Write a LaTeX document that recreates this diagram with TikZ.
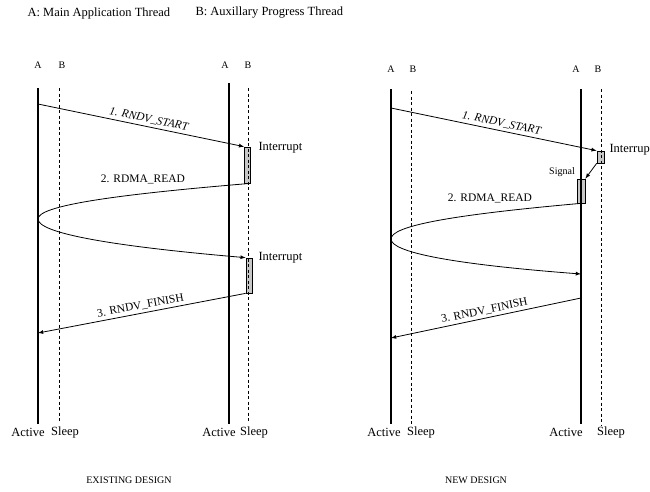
\documentclass[tikz,border=0pt]{standalone}
\usepackage{fontspec}
\setmainfont{Liberation Serif}
\begin{document}
\begin{tikzpicture}[x=1pt,y=-1pt,
    active/.style={line width=1.3pt},
    sleep/.style={line width=0.7pt,dash pattern=on 3pt off 2.5pt},
    msg/.style={-latex,line width=0.8pt},
    busy/.style={draw,fill=black!22,line width=0.7pt,inner sep=0pt},
    small/.style={font=\fontsize{10}{12}\selectfont},
    mid/.style={font=\fontsize{11.5}{13}\selectfont},
    big/.style={font=\fontsize{12.5}{14}\selectfont}]
  \useasboundingbox (0,0) rectangle (650,491);

  \node[big,anchor=west] (keya) at (24,13) {A: Main Application Thread};
  \node[big,anchor=west] (keyb) at (192,13) {B: Auxillary Progress Thread};

  % existing design
  \node[small] (la1) at (38,65) {A};
  \node[small] (lb1) at (62,65) {B};
  \node[small] (la2) at (225,65) {A};
  \node[small] (lb2) at (248,65) {B};

  \node[busy,minimum width=6,minimum height=36] (int1) at (247.5,165) {};
  \node[busy,minimum width=6,minimum height=35] (int2) at (249,275.5) {};

  \draw[active] (38,88) -- (38,424);
  \draw[sleep] (59,88) -- (59,423);
  \draw[active] (229,83) -- (229,424);
  \draw[sleep] (248,88) -- (248,423);

  \draw[msg] (38,104) -- node[mid,pos=0.53,above=-1pt,sloped] {\itshape 1. RNDV\_START} (int1.north west);
  \node[big,anchor=west] (irq1) at (255,148) {Interrupt};
  \draw[msg] (int1.south east) .. controls (110,195) and (38,206) .. (38,219)
    .. controls (38,233) and (110,246) .. (int2.north west);
  \node[mid] (rd1) at (143,179) {2. RDMA\_READ};
  \node[big,anchor=west] (irq2) at (255,258) {Interrupt};
  \draw[msg] (int2.south west) -- node[mid,pos=0.5,above=-1pt,sloped] {3. RNDV\_FINISH} (38,333);

  \node[big] (ac1) at (28,432) {Active};
  \node[big] (sl1) at (65,432) {Sleep};
  \node[big] (ac2) at (219,432) {Active};
  \node[big] (sl2) at (254,432) {Sleep};
  \node[small] (old) at (129,480) {EXISTING DESIGN};

  % new design
  \node[small] (la3) at (391,69) {A};
  \node[small] (lb3) at (413,69) {B};
  \node[small] (la4) at (576,69) {A};
  \node[small] (lb4) at (598,69) {B};

  \node[busy,minimum width=7,minimum height=12] (int3) at (600.5,157) {};
  \node[busy,minimum width=8,minimum height=24] (sig) at (581,191) {};

  \draw[active] (391,89) -- (391,424);
  \draw[sleep] (411,91) -- (411,424);
  \draw[active] (581,89) -- (581,424);
  \draw[sleep] (601,89) -- (601,425);

  \draw[msg] (391,108) -- node[mid,pos=0.53,above=-1pt,sloped] {\itshape 1. RNDV\_START} (int3.north west);
  \node[big,anchor=west] (irq3) at (606,150) {Interrupt};
  \node[small] (sg) at (562,172) {Signal};
  \draw[msg] (int3.south west) -- (sig.north east);
  \draw[msg] (sig.south) .. controls (450,215) and (391,226) .. (391,239)
    .. controls (391,252) and (450,264) .. (581,274);
  \node[mid] (rd2) at (490,198) {2. RDMA\_READ};
  \draw[msg] (581,298) -- node[mid,pos=0.5,above=-1pt,sloped] {3. RNDV\_FINISH} (391,338);

  \node[big] (ac3) at (384,432) {Active};
  \node[big] (sl3) at (421,432) {Sleep};
  \node[big] (ac4) at (566,432) {Active};
  \node[big] (sl4) at (611,432) {Sleep};
  \node[small] (new) at (476,480) {NEW DESIGN};
\end{tikzpicture}
\end{document}
